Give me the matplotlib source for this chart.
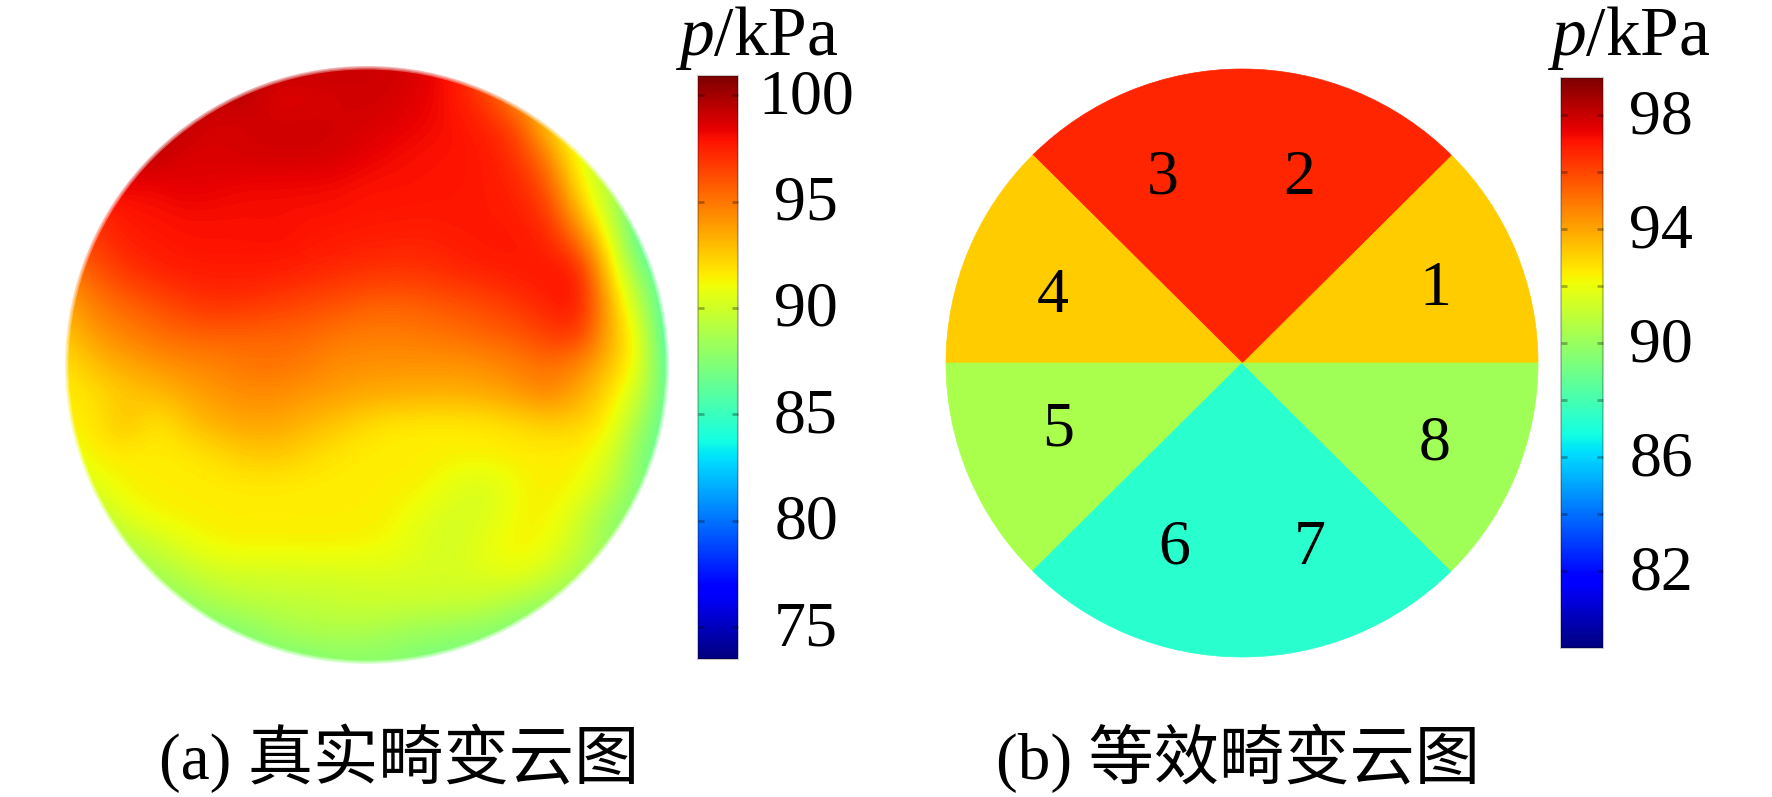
import numpy as np
from matplotlib import pyplot as plt
from matplotlib.cm import ScalarMappable
from matplotlib.colors import Normalize
from matplotlib.patches import Circle
from matplotlib.transforms import ScaledTranslation

plt.rcParams['font.family'] = ['Liberation Serif', 'Noto Sans CJK SC']
plt.rcParams['mathtext.fontset'] = 'custom'
plt.rcParams['mathtext.rm'] = 'Liberation Serif'
plt.rcParams['mathtext.it'] = 'Liberation Serif:italic'

W, H = 1772, 797

# (a) pressure, rows top to bottom, columns left to right
field_a = [
	[99.5, 99.5, 99.5, 99.5, 99.5, 99.5, 99.5, 99.5, 99.3, 99.2, 99.0, 99.0, 98.5, 97.7, 96.0, 94.0, 92.0, 90.0, 89.0, 88.0, 86.0],
	[99.5, 99.5, 99.5, 99.5, 99.5, 99.5, 99.5, 98.4, 98.6, 98.8, 99.0, 98.8, 98.4, 97.7, 96.5, 94.0, 92.0, 90.0, 89.0, 88.0, 86.0],
	[99.5, 99.5, 99.5, 99.5, 99.3, 98.6, 98.8, 99.0, 99.0, 98.9, 98.8, 98.5, 98.2, 97.9, 97.4, 96.3, 92.6, 90.0, 89.0, 88.0, 86.0],
	[99.5, 99.5, 99.5, 99.3, 98.6, 98.8, 98.9, 98.9, 98.9, 98.8, 98.4, 98.1, 97.9, 97.9, 97.7, 96.9, 94.6, 90.9, 89.0, 87.5, 86.0],
	[98.5, 98.5, 98.2, 98.2, 98.6, 98.4, 98.2, 98.2, 98.2, 98.1, 97.9, 97.9, 97.9, 97.8, 97.7, 97.4, 96.0, 91.8, 89.0, 87.0, 86.0],
	[96.5, 97.0, 97.8, 97.9, 98.0, 98.0, 98.0, 98.0, 97.9, 97.9, 97.8, 97.8, 97.7, 97.8, 97.7, 97.6, 96.9, 93.5, 89.8, 85.8, 85.0],
	[96.0, 96.7, 97.5, 97.7, 97.9, 97.9, 97.9, 98.0, 97.8, 97.6, 97.5, 97.4, 97.4, 97.6, 97.8, 97.8, 97.5, 95.8, 91.5, 86.0, 85.0],
	[94.5, 95.8, 96.7, 97.3, 97.5, 97.6, 97.6, 97.5, 97.3, 97.1, 96.9, 96.8, 96.9, 97.2, 97.4, 97.6, 97.8, 97.9, 92.6, 87.9, 85.3],
	[93.5, 94.8, 95.5, 96.0, 96.7, 97.0, 96.9, 96.6, 96.3, 96.0, 95.6, 95.5, 95.7, 96.0, 96.3, 96.9, 97.4, 98.0, 93.5, 89.5, 85.0],
	[92.6, 94.0, 94.6, 95.2, 95.5, 95.6, 95.5, 95.5, 95.4, 95.0, 94.8, 94.8, 95.0, 95.2, 95.6, 95.8, 96.7, 96.9, 93.5, 91.0, 84.8],
	[91.8, 92.9, 93.5, 94.0, 94.4, 94.6, 95.0, 95.1, 94.8, 94.3, 94.2, 94.1, 94.1, 94.1, 94.3, 94.8, 95.2, 94.6, 92.9, 91.0, 85.5],
	[91.5, 91.9, 92.6, 92.9, 93.5, 94.0, 94.3, 94.3, 94.0, 93.8, 93.5, 93.4, 93.3, 93.3, 93.5, 93.9, 94.6, 93.5, 92.0, 89.8, 86.0],
	[91.4, 91.7, 92.9, 91.6, 92.6, 93.3, 93.6, 93.6, 93.1, 92.6, 92.0, 91.6, 91.5, 91.5, 91.6, 92.0, 92.3, 92.3, 91.5, 88.5, 85.8],
	[90.5, 91.5, 91.5, 91.5, 91.6, 92.0, 92.5, 92.6, 92.2, 91.7, 91.5, 91.5, 91.5, 91.5, 91.5, 91.5, 91.5, 91.5, 90.5, 87.5, 86.0],
	[90.0, 90.7, 91.4, 91.5, 91.5, 91.5, 91.6, 91.6, 91.5, 91.5, 91.5, 91.5, 91.4, 90.5, 90.3, 91.2, 91.5, 91.3, 89.7, 87.5, 86.0],
	[89.0, 89.3, 90.8, 91.3, 91.5, 91.5, 91.5, 91.5, 91.5, 91.5, 91.5, 91.3, 90.5, 90.2, 90.3, 91.2, 91.5, 90.1, 88.3, 87.0, 86.5],
	[88.0, 88.0, 89.0, 89.9, 90.7, 91.3, 91.4, 91.4, 91.4, 91.4, 91.3, 91.0, 90.3, 90.1, 90.9, 91.5, 91.0, 89.7, 88.0, 87.5, 87.0],
	[87.5, 87.5, 88.0, 88.6, 89.4, 90.0, 90.1, 90.1, 90.2, 90.2, 90.3, 90.3, 90.3, 90.3, 90.5, 90.8, 90.0, 88.7, 88.0, 87.5, 87.0],
	[87.5, 87.5, 87.5, 87.5, 88.0, 88.8, 89.2, 89.4, 89.4, 89.7, 89.8, 89.8, 89.7, 89.7, 89.5, 88.7, 88.0, 87.5, 87.5, 87.5, 87.0],
	[87.0, 87.0, 87.0, 87.0, 87.0, 87.0, 87.5, 88.3, 88.8, 88.8, 88.7, 88.3, 88.1, 87.8, 87.5, 87.0, 87.0, 87.0, 87.0, 87.0, 87.0],
	[87.0, 87.0, 87.0, 87.0, 87.0, 87.0, 87.0, 87.0, 87.0, 87.5, 87.5, 87.5, 87.0, 87.0, 87.0, 87.0, 87.0, 87.0, 87.0, 87.0, 87.0],
]

# (b) equivalent distortion, one pressure per 45 degree sector
sector_ids = ['1', '2', '3', '4', '5', '6', '7', '8']
sector_p = [93.2, 96.7, 96.7, 93.2, 90.4, 87.3, 87.3, 90.2]

ticks_a = [100, 95, 90, 85, 80, 75]
ticks_b = [98, 94, 90, 86, 82]
minor_b = [96, 92, 88, 84]
range_a = (73.5, 100.9)
range_b = (79.3, 99.3)

caption_a = '(a) 真实畸变云图'
caption_b = '(b) 等效畸变云图'
unit_label = '$p$/kPa'

# sector label centres in pixels
label_xy = [(1435, 283), (1299, 172), (1163, 172), (1053, 290),
	(1058, 423), (1174, 542), (1310, 542), (1435, 437)]


def px_axes(fig, left, top, right, bottom):
	"""Adds an axes from a box given in image pixels

	:param fig: The figure
	:type fig: matplotlib.figure.Figure
	:return: The new axes
	:rtype: matplotlib.axes.Axes
	"""
	return fig.add_axes([left / W, 1 - bottom / H, (right - left) / W, (bottom - top) / H])


def draw_colorbar(fig, box, value_range, ticks, pad, unit_x, minor=()):
	"""Draws a vertical jet colorbar with centred tick labels

	:param box: left, top, right, bottom in pixels
	:type box: tuple
	:param value_range: The lower and upper limit of the scale
	:type value_range: tuple
	:param ticks: The tick values
	:type ticks: list
	:param pad: Tick label offset in points
	:type pad: float
	:param unit_x: Pixel centre of the unit label
	:type unit_x: float
	:param minor: Unlabelled tick values
	:type minor: list
	"""
	cax = px_axes(fig, *box)
	mappable = ScalarMappable(Normalize(*value_range), 'jet')
	bar = fig.colorbar(mappable, cax=cax)
	bar.outline.set_edgecolor((0, 0, 0, 0.22))
	bar.outline.set_linewidth(1.5)
	bar.set_ticks(ticks)
	cax.set_yticks(list(minor), minor=True)
	cax.tick_params(axis='y', which='both', direction='in', length=4, width=2,
		color=(0, 0, 0, 0.3), left=True, right=True)
	cax.tick_params(axis='y', which='major', pad=pad, labelsize=46)
	lift = ScaledTranslation(0, 4 / fig.dpi, fig.dpi_scale_trans)
	for label in cax.get_yticklabels():
		label.set_ha('center')
		label.set_va('center_baseline')
		label.set_transform(label.get_transform() + lift)
	fig.text(unit_x / W, 1 - 55 / H, unit_label, fontsize=50, ha='center', va='baseline')


fig = plt.figure(figsize=(W / 100, H / 100), dpi=100, facecolor='white')

# left disk
ax_a = px_axes(fig, 65, 66, 669, 664)
step = 1 / (len(field_a) - 1)
image = ax_a.imshow(field_a, cmap='jet', norm=Normalize(*range_a), interpolation='bicubic',
	extent=(-1 - step, 1 + step, 1 + step, -1 - step), aspect='auto')
image.set_clip_path(Circle((0, 0), 1, transform=ax_a.transData))
# the scan has a soft rim
for rim_width in (5, 3, 1.5):
	ax_a.add_patch(Circle((0, 0), 1, fill=False, edgecolor=(1, 1, 1, 0.35), linewidth=rim_width, clip_on=False))
ax_a.set_xlim(-1, 1)
ax_a.set_ylim(1, -1)
ax_a.axis('off')
draw_colorbar(fig, (698, 76, 738, 659), range_a, ticks_a, 49, 757)

# right disk
ax_b = px_axes(fig, 946, 69, 1538, 657)
norm_b = Normalize(*range_b)
sector_colors = plt.get_cmap('jet')(norm_b(sector_p))
wedges, _ = ax_b.pie(np.ones(len(sector_p)), colors=sector_colors, startangle=0, radius=1)
for wedge, color in zip(wedges, sector_colors):
	wedge.set_edgecolor(color)
	wedge.set_linewidth(0.5)
ax_b.set_aspect('auto')
ax_b.set_xlim(-1, 1)
ax_b.set_ylim(-1, 1)
draw_colorbar(fig, (1561, 78, 1603, 648), range_b, ticks_b, 42, 1629, minor_b)

for sector_id, (x, y) in zip(sector_ids, label_xy):
	fig.text(x / W, 1 - y / H, sector_id, fontsize=46, ha='center', va='center_baseline')

fig.text(399 / W, 1 - 751 / H, caption_a, fontsize=47, ha='center', va='center_baseline')
fig.text(1238 / W, 1 - 751 / H, caption_b, fontsize=47, ha='center', va='center_baseline')

fig.savefig('out.png', dpi=100)
